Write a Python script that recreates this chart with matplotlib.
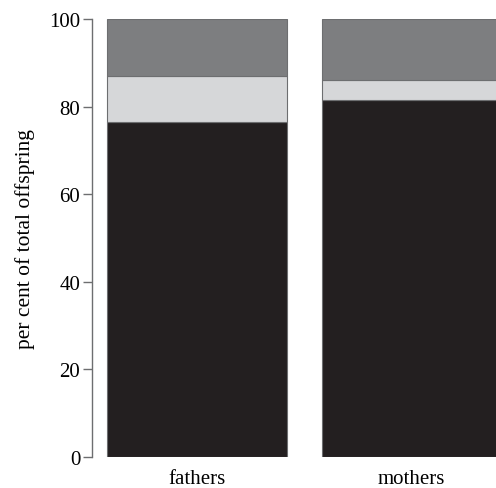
import numpy as np
import matplotlib
matplotlib.use("Agg")
import matplotlib.pyplot as plt

plt.rcParams['font.family'] = ['Liberation Serif', 'DejaVu Serif']

groups = ["fathers", "mothers"]
bottom_vals = [76.4, 81.6]   # dark segment
middle_vals = [10.5, 4.5]    # light grey segment
top_vals = [13.1, 13.9]      # mid grey segment
yticks = [0, 20, 40, 60, 80, 100]

c_dark = "#231f20"
c_light = "#d6d7d9"
c_mid = "#7d7e80"
edge = "#6d6e70"

fig = plt.figure(figsize=(4.96, 4.89), dpi=100)
ax = fig.add_axes([0.185, 0.0634, 0.815, 0.8957])

x = np.arange(len(groups))
w = 0.84
b = np.array(bottom_vals)
m = np.array(middle_vals)
t = np.array(top_vals)
ax.bar(x, b, w, color=c_dark, edgecolor=edge, linewidth=0.8)
ax.bar(x, m, w, bottom=b, color=c_light, edgecolor=edge, linewidth=0.8)
ax.bar(x, t, w, bottom=b + m, color=c_mid, edgecolor=edge, linewidth=0.8)

ax.set_xlim(-0.493, 1.394)
ax.set_ylim(0, 100)
ax.set_yticks(yticks)
ax.set_xticks(x)
ax.set_xticklabels(groups)
ax.set_ylabel("per cent of total offspring", fontsize=15.5, labelpad=10)

for s in ["top", "right", "bottom"]:
    ax.spines[s].set_visible(False)
ax.spines["left"].set_color(edge)
ax.spines["left"].set_linewidth(1.0)
ax.tick_params(axis="y", length=6.3, width=1.0, color=edge, labelsize=15, pad=2)
ax.tick_params(axis="x", length=0, labelsize=15, pad=9)

fig.savefig("out.png", dpi=100)
